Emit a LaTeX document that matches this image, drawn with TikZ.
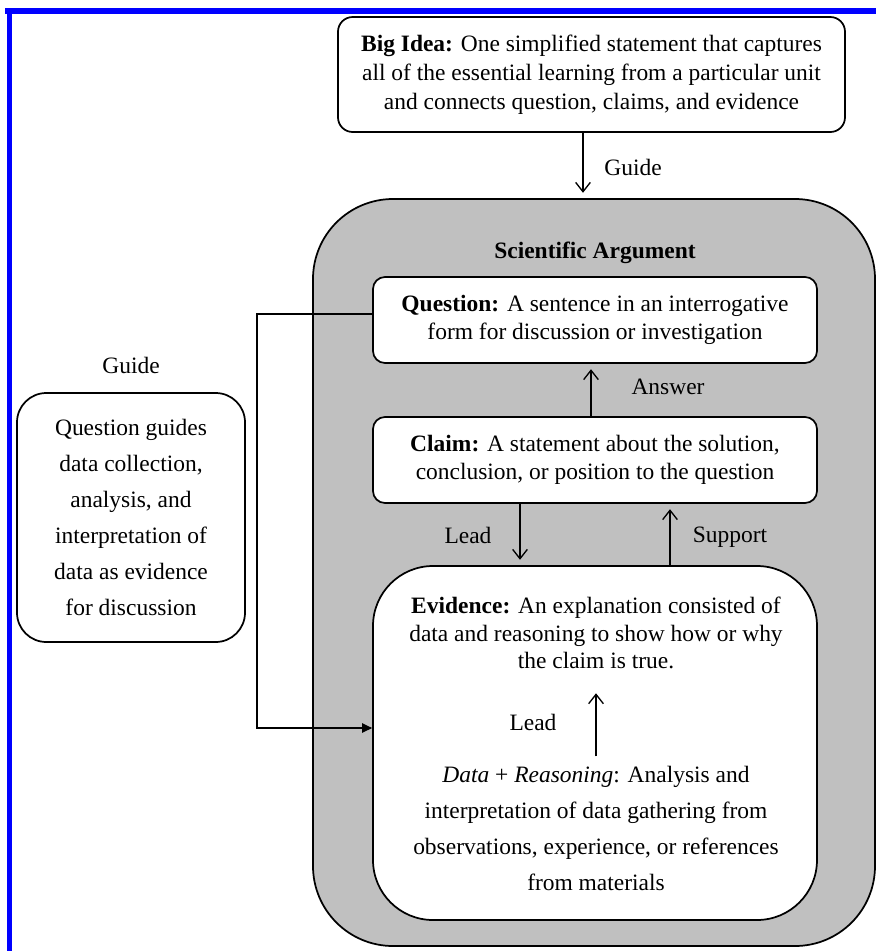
\documentclass[tikz,border=0pt]{standalone}
\usepackage{fontspec}
\setmainfont{Liberation Serif}
\usetikzlibrary{arrows.meta}

\tikzset{every picture/.style={line width=0.75pt}}

\begin{document}
\begin{tikzpicture}[x=0.75pt,y=0.75pt,yscale=-1,xscale=1,
  font=\fontsize{17.6}{20.5}\selectfont,
  box/.style={draw, line width=1.3pt, fill=white, rounded corners=9pt, align=center, inner sep=0pt},
  lbl/.style={inner sep=0pt, align=center},
  wide/.style={font=\fontsize{17.6}{27}\selectfont},
  arr/.style={line width=1pt, -{Straight Barb[length=7pt,width=11pt]}, shorten >=4pt},
  link/.style={line width=1pt, -{Triangle[length=7.5pt,width=7pt]}}]
\useasboundingbox (0,0) rectangle (876,951);

%Frame
\fill [color={rgb, 255:red, 0; green, 0; blue, 255 }] (5,8) rectangle (876,14);
\fill [color={rgb, 255:red, 0; green, 0; blue, 255 }] (7,8) rectangle (12,951);

%Rounded Rect
\node [box, font=\fontsize{17.6}{21.75}\selectfont, minimum width=380.25pt, minimum height=86.25pt, rounded corners=11pt] (bigidea) at (591.5,74.5) {\textbf{Big Idea:} One simplified statement that captures\\ all of the essential learning from a particular unit\\ and connects question, claims, and evidence};
%Rounded Rect
\node [box, fill={rgb, 255:red, 192; green, 192; blue, 192 }, minimum width=421.5pt, minimum height=560.25pt, rounded corners=60pt] (argument) at (594,572.5) {};
%Rounded Rect
\node [box, minimum width=333pt, minimum height=64.5pt] (question) at (595,320) {\textbf{Question:} A sentence in an interrogative\\ form for discussion or investigation};
%Rounded Rect
\node [box, minimum width=333pt, minimum height=64.5pt] (claim) at (595,460) {\textbf{Claim:} A statement about the solution,\\ conclusion, or position to the question};
%Rounded Rect
\node [box, minimum width=333pt, minimum height=265.5pt, rounded corners=45pt] (evidence) at (595,743) {};
%Rounded Rect
\node [box, wide, minimum width=171pt, minimum height=186.75pt, rounded corners=22pt] (guidebox) at (131,517.5) {Question guides\\ data collection,\\ analysis, and\\ interpretation of\\ data as evidence\\ for discussion};

% Text Node
\node [lbl, font=\fontsize{17.6}{20.5}\selectfont\bfseries] (title) at (595,253) {Scientific Argument};
% Text Node
\node [lbl] (evtext) at (596,633) {\textbf{Evidence:} An explanation consisted of\\ data and reasoning to show how or why\\ the claim is true.};
% Text Node
\node [lbl, wide] (datatext) at (596,828.5) {\textit{Data} + \textit{Reasoning}: Analysis and\\ interpretation of data gathering from\\ observations, experience, or references\\ from materials};
% Text Node
\node [lbl] (guidetop) at (633,167) {Guide};
\node [lbl] (answer) at (668,387) {Answer};
\node [lbl] (leadtop) at (468,535) {Lead};
\node [lbl] (support) at (730,537) {Support};
\node [lbl] (leadin) at (533,722) {Lead};
\node [lbl] (guideleft) at (131,365) {Guide};

%Straight Lines
\coordinate (xguide) at (583,0);
\coordinate (xanswer) at (591,0);
\coordinate (xlead) at (520,0);
\coordinate (xsupport) at (670,0);
\coordinate (turn) at (257,314);
\coordinate (entry) at (0,728);
\draw [arr] (bigidea.south -| xguide) -- (argument.north -| xguide);
\draw [arr] (claim.north -| xanswer) -- (question.south -| xanswer);
\draw [arr] (claim.south -| xlead) -- (evidence.north -| xlead);
\draw [arr] (evidence.north -| xsupport) -- (claim.south -| xsupport);
\draw [arr, shorten <=7pt, shorten >=18pt] (datatext.north) -- (evtext.south);
\draw [link] (question.west |- turn) -- (turn) |- (evidence.west |- entry);

\end{tikzpicture}
\end{document}
